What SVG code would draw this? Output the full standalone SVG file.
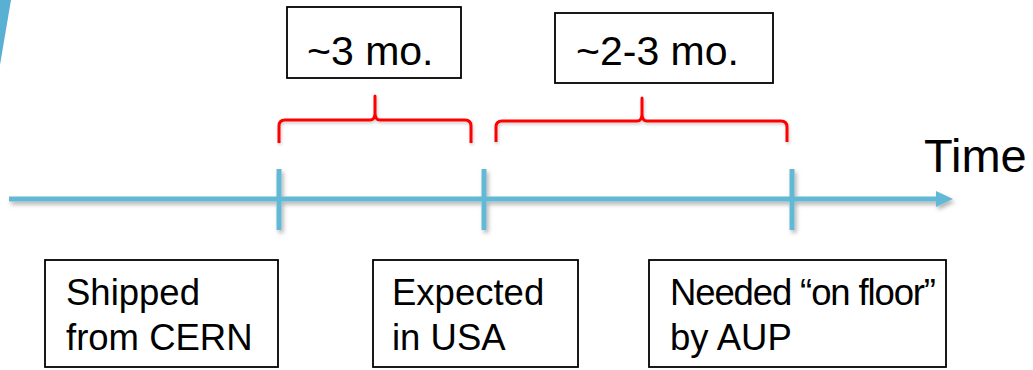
<svg xmlns="http://www.w3.org/2000/svg" width="1033" height="370" viewBox="0 0 1033 370">
<style>
.box{fill:#fff;stroke:#000;stroke-width:1.8}
.lbl{font-family:"Liberation Sans",Arial,sans-serif;fill:#000}
.top{font-size:41px}
.bot{font-size:36.5px}
.axis{stroke:#62B9D6;stroke-width:5;fill:none}
.brace{stroke:#FF0000;stroke-width:3;fill:none;stroke-linecap:butt;stroke-linejoin:round}
</style>
<defs>
<filter id="sh" x="-10%" y="-50%" width="120%" height="200%">
<feDropShadow dx="2" dy="3" stdDeviation="2" flood-color="#000" flood-opacity="0.3"/>
</filter>
<filter id="shr" x="-10%" y="-50%" width="120%" height="200%">
<feDropShadow dx="1" dy="2" stdDeviation="1.5" flood-color="#000" flood-opacity="0.2"/>
</filter>
</defs>
<polygon points="0,0 11,0 0,65" fill="#5AB0D2"/>
<g id="connectors">
<g filter="url(#sh)">
<line class="axis" x1="9" y1="199" x2="938" y2="199"/>
<polygon points="936,191 953,199 936,207" fill="#62B9D6"/>
<line class="axis" x1="279" y1="169" x2="279" y2="230"/>
<line class="axis" x1="484" y1="169" x2="484" y2="230"/>
<line class="axis" x1="792" y1="169" x2="792" y2="230"/>
</g>
<g filter="url(#shr)">
<path class="brace" d="M279,143 V126 Q279,120 285,120 H370 Q375,120 375,113 V96 V113 Q375,120 380,120 H465 Q471,120 471,126 V143"/>
<path class="brace" d="M496,142 V127 Q496,121 502,121 H637 Q642,121 642,114 V98 V114 Q642,121 647,121 H781 Q787,121 787,127 V142"/>
</g>
</g>
<g id="time"><text class="lbl" x="924" y="172" font-size="47px">Time</text></g>
<g id="dur1"><rect class="box" x="287" y="7" width="174" height="71"/><text class="lbl top" x="307" y="65">~3 mo.</text></g>
<g id="dur2"><rect class="box" x="555" y="13" width="218" height="70"/><text class="lbl top" x="576" y="65">~2-3 mo.</text></g>
<g id="shipped"><rect class="box" x="45" y="260" width="233" height="107"/><text class="lbl bot" x="66" y="305">Shipped</text><text class="lbl bot" x="66" y="350">from CERN</text></g>
<g id="expected"><rect class="box" x="373" y="260" width="205" height="107"/><text class="lbl bot" x="392" y="305">Expected</text><text class="lbl bot" x="392" y="350">in USA</text></g>
<g id="needed"><rect class="box" x="649" y="260" width="297" height="107"/><text class="lbl bot" x="670" y="305" textLength="266" lengthAdjust="spacing">Needed “on floor”</text><text class="lbl bot" x="670" y="350">by AUP</text></g>
</svg>
